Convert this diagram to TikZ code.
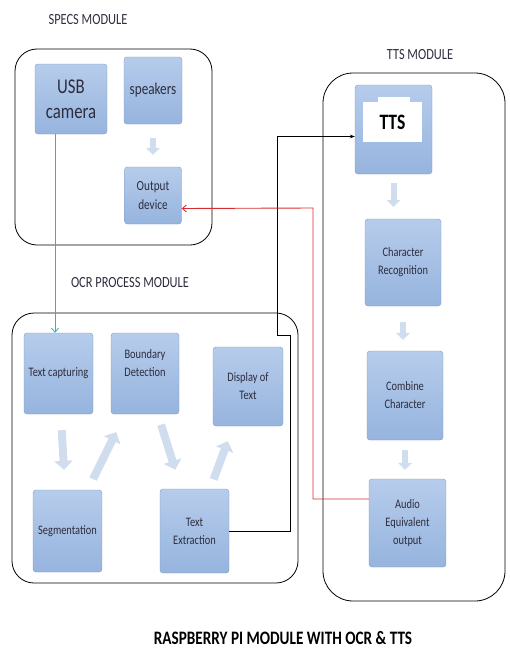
\documentclass[tikz,border=0pt]{standalone}
\usepackage{fontspec}
\setmainfont{Carlito}[FakeStretch=0.8]
\usetikzlibrary{arrows.meta}
\definecolor{boxtop}{RGB}{182,204,235}
\definecolor{boxbot}{RGB}{150,180,222}
\definecolor{boxedge}{RGB}{128,156,198}
\definecolor{boxtext}{RGB}{45,45,62}
\definecolor{fatblue}{RGB}{208,221,238}
\definecolor{camline}{RGB}{60,175,190}
\definecolor{audioline}{RGB}{215,45,45}
\tikzset{
  block/.style={draw=boxedge,rounded corners=3pt,top color=boxtop,bottom color=boxbot,text=boxtext,
    align=center,inner sep=2pt,font=\fontsize{13}{18}\selectfont},
  module/.style={draw,line width=0.8pt,rounded corners=22pt},
  title/.style={font=\fontsize{15.5}{18}\selectfont,text=boxtext},
  fat/.style={draw=fatblue,line width=8pt,-{Triangle[width=18pt,length=9pt]}},
  thinfat/.style={draw=fatblue,line width=6pt,-{Triangle[width=14pt,length=7pt]}},
  link/.style={draw,line width=0.6pt,-{Stealth[length=5pt]}},
  barb/.style={draw,line width=0.9pt,-{Straight Barb[length=4pt,width=7pt]}}
}
\begin{document}
\begin{tikzpicture}[x=1pt,y=-1pt]
  \useasboundingbox (0,0) rectangle (510,653);
  \draw[module] (15,49) rectangle (212,245);
  \draw[module,rounded corners=30pt] (323,73) rectangle (505,601);
  \draw[module] (12,313) rectangle (298,583);
  \node[title] (specst) at (88,20) {SPECS MODULE};
  \node[title] (ttst) at (420,55) {TTS MODULE};
  \node[title] (ocrt) at (130,283) {OCR PROCESS MODULE};
  \node[font=\fontsize{19}{22}\selectfont\bfseries] (maint) at (283,638) {RASPBERRY PI MODULE WITH OCR \& TTS};
  \node[block,minimum width=72pt,minimum height=70pt,font=\fontsize{21}{25}\selectfont] (usb) at (71,99) {USB\\camera};
  \node[block,minimum width=58pt,minimum height=67pt,font=\fontsize{16.5}{20}\selectfont] (spk) at (153,90.5) {speakers};
  \node[block,minimum width=57pt,minimum height=57pt,font=\fontsize{14}{19}\selectfont] (outdev) at (153,195.5) {Output\\device};
  \node[block,minimum width=77pt,minimum height=89pt] (ttsnode) at (393.5,129.5) {};
  \node[fill=white,minimum width=59pt,minimum height=40pt,font=\fontsize{22}{25}\selectfont\bfseries] (ttslbl) at (392.5,122) {TTS};
  \fill[white] ([xshift=-15pt]ttslbl.north) rectangle ([xshift=17pt,yshift=5pt]ttslbl.north);
  \node[block,minimum width=76pt,minimum height=87pt] (charrec) at (403,262.5) {Character\\Recognition};
  \node[block,minimum width=76pt,minimum height=89pt] (combine) at (405,395.5) {Combine\\Character};
  \node[block,minimum width=77pt,minimum height=88pt] (audio) at (407.5,523) {Audio\\Equivalent\\output};
  \node[block,minimum width=69pt,minimum height=81pt] (txtcap) at (58.5,373.5) {Text capturing};
  \node[block,minimum width=68pt,minimum height=81pt] (bound) at (145,373.5) {Boundary\\Detection\\[4pt]};
  \node[block,minimum width=70pt,minimum height=79pt] (disp) at (248,386.5) {Display of\\Text};
  \node[block,minimum width=69pt,minimum height=82pt] (seg) at (67.5,531) {Segmentation};
  \node[block,minimum width=69pt,minimum height=84pt] (txtext) at (194.5,531) {Text\\Extraction};
  \draw[thinfat,shorten <=14pt,shorten >=12pt] (spk.south) -- (outdev.north);
  \draw[thinfat,shorten <=9pt,shorten >=12pt] (ttsnode.south) -- (ttsnode.south |- charrec.north);
  \draw[thinfat,shorten <=16pt,shorten >=11pt] (charrec.south) -- (charrec.south |- combine.north);
  \draw[thinfat,shorten <=10pt,shorten >=9pt] (combine.south) -- (combine.south |- audio.north);
  \draw[fat,shorten <=16pt,shorten >=20pt] (txtcap) -- (seg);
  \draw[fat,shorten <=12pt,shorten >=20pt] (seg) -- (bound);
  \draw[fat,shorten <=11pt,shorten >=20pt] (bound) -- (txtext);
  \draw[fat,shorten <=10pt,shorten >=16pt] (txtext) -- (disp);
  \coordinate (jog) at (290,335);
  \coordinate (jog2) at (277,335);
  \coordinate (rjog) at (313,208);
  \draw[barb,draw=camline,line width=0.8pt] ([xshift=-16pt]usb.south) -- ([xshift=-16pt]usb.south |- txtcap.north);
  \draw[link] (txtext.east) -| (jog) -- (jog2) |- ([yshift=-7pt]ttsnode.west);
  \draw[barb,draw=audioline] ([yshift=24pt]audio.west) -| (rjog) -- ([yshift=-13pt]outdev.east);
\end{tikzpicture}
\end{document}
